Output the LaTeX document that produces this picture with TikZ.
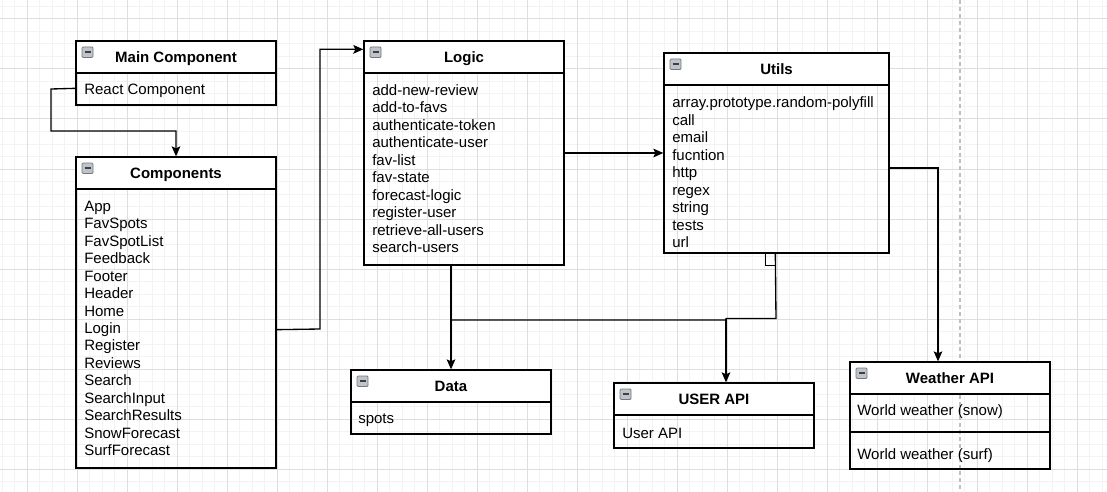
\documentclass[tikz,border=0pt]{standalone}
\usepackage{fontspec}
\setmainfont{Liberation Sans}
\usetikzlibrary{arrows.meta,fit,calc}
\definecolor{gridminor}{HTML}{F3F3F3}
\definecolor{gridmajor}{HTML}{DEDEDE}
\definecolor{iconfill}{HTML}{BFC4CA}
\definecolor{iconline}{HTML}{737880}
\tikzset{
  box/.style={draw=black, line width=1pt, inner sep=0pt},
  titletext/.style={font=\fontsize{11.25pt}{13pt}\selectfont\bfseries, anchor=base, inner sep=0pt},
  item/.style={font=\fontsize{11.25pt}{13pt}\selectfont, anchor=base west, inner sep=0pt},
  conn/.style={draw=black, line width=1pt},
  arr/.style={conn, -{Stealth[length=7.5pt,width=6.5pt,inset=1.5pt]}},
}
% name, x1, y1, x2, y2, ydivider, title
\newcommand\umlbox[7]{%
  \fill[white] (#2,#3) rectangle (#4,#6);
  \node[box, fit={(#2,#3)(#4,#5)}] (#1) {};
  \draw[box] (#2,#6) -- (#4,#6);
  \draw[iconline, fill=iconfill, line width=0.6pt, rounded corners=0.8pt] ({#2+6},{#3+6}) rectangle ({#2+17},{#3+16.5});
  \draw[black!75, line width=1.1pt] ({#2+8.5},{#3+11.2}) -- ({#2+14.5},{#3+11.2});
  \node[titletext] (#1-title) at ({(#2+#4)/2},{(#3+#6)/2+5.4}) {#7};
}
\begin{document}
\begin{tikzpicture}[x=0.75pt,y=-0.75pt]
\useasboundingbox (0,0) rectangle (1107,492);
\fill[white] (0,0) rectangle (1107,492);
% grid
\foreach \i in {0,...,88} \draw[gridminor, line width=0.75pt] ({2+12.5*\i},0) -- ({2+12.5*\i},492);
\foreach \j in {0,...,39} \draw[gridminor, line width=0.75pt] (0,{6.5+12.5*\j}) -- (1107,{6.5+12.5*\j});
\foreach \i in {0,...,21} \draw[gridmajor, line width=0.75pt] ({27+50*\i},0) -- ({27+50*\i},492);
\foreach \j in {0,...,9} \draw[gridmajor, line width=0.75pt] (0,{19+50*\j}) -- (1107,{19+50*\j});
% page break line
\draw[black!25, line width=1.1pt, dash pattern=on 3pt off 2.2pt] (960,0) -- (960,492);

% boxes
\umlbox{main}{76}{41}{276}{105}{73}{Main Component}
\node[item] (main-1) at (84,94.5) {React Component};

\umlbox{comp}{76}{157}{276}{468}{189}{Components}
\foreach \t [count=\i] in {App,FavSpots,FavSpotList,Feedback,Footer,Header,Home,Login,Register,Reviews,Search,SearchInput,SearchResults,SnowForecast,SurfForecast}
  \node[item] (comp-\i) at (84,{211.5+17.43*(\i-1)}) {\t};

\umlbox{logic}{364}{41}{564}{265}{73}{Logic}
\foreach \t [count=\i] in {add-new-review,add-to-favs,authenticate-token,authenticate-user,fav-list,fav-state,forecast-logic,register-user,retrieve-all-users,search-users}
  \node[item] (logic-\i) at (372,{95.5+17.44*(\i-1)}) {\t};

\umlbox{utils}{664}{53}{889}{253}{85}{Utils}
\foreach \t [count=\i] in {array.prototype.random-polyfill,call,email,fucntion,http,regex,string,tests,url}
  \node[item] (utils-\i) at (672,{107.5+17.5*(\i-1)}) {\t};

\umlbox{data}{351}{370}{551}{434}{402}{Data}
\node[item] (data-1) at (358,423.5) {spots};

\umlbox{user}{614}{383}{814}{448}{415}{USER API}
\node[item] (user-1) at (622,438.5) {User API};

\umlbox{weather}{850}{362}{1050}{469}{394}{Weather API}
\draw[box] (850,432) -- (1050,432);
\node[item] (weather-1) at (857,415.5) {World weather (snow)};
\node[item] (weather-2) at (857,459.5) {World weather (surf)};

% connectors
\draw[arr] ($(main.north west)+(0,48)$) -- (51,89) -- (51,131) -| (comp.north);
\draw[arr] ($(comp.south east)+(0,-139)$) -- (320,329) |- ($(logic.north west)+(0,9)$);
\draw[arr] (logic.east) -- (utils.west);
\draw[arr] ($(utils.east)+(0,15)$) -| ($(weather.north)+(-12,0)$);
\draw[arr] (data.north |- logic.south) -- (data.north);
\draw[conn] ($(utils.south west)+(102,0)$) -- ++(0,12) -- ++(10,0);
\draw[conn] ($(utils.south west)+(112,0)$) -- (776,318.5) -- (726,318.5) -- (726,320) -- (451,320);
\draw[arr] (726,318.5) -- ($(user.north)+(12,0)$);
\end{tikzpicture}
\end{document}
